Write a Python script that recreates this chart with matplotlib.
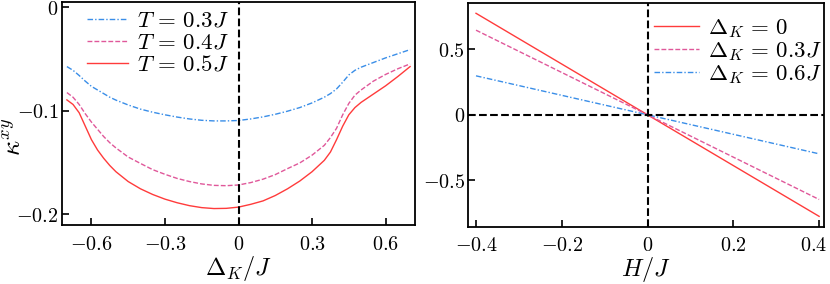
import numpy as np
import matplotlib
matplotlib.use("Agg")
import matplotlib.pyplot as plt
from matplotlib.transforms import ScaledTranslation

plt.rcParams['mathtext.fontset'] = 'cm'
plt.rcParams['font.family'] = 'serif'
plt.rcParams['font.serif'] = ['DejaVu Serif']

# left panel: kappa^xy vs Delta_K / J
dk = [-0.70, -0.675, -0.65, -0.625, -0.60, -0.575, -0.55, -0.525, -0.50, -0.45, -0.40, -0.35, -0.30,
      -0.25, -0.20, -0.15, -0.10, -0.05, 0.00, 0.05, 0.10, 0.15, 0.20, 0.25, 0.30, 0.35, 0.375,
      0.40, 0.425, 0.45, 0.475, 0.50, 0.55, 0.60, 0.65, 0.70]
k_t03 = [-0.0574, -0.061, -0.066, -0.0715, -0.0765, -0.080, -0.0835, -0.087, -0.0898, -0.0945, -0.0985, -0.1015, -0.104,
         -0.1062, -0.108, -0.1093, -0.1099, -0.1099, -0.1095, -0.108, -0.106, -0.1035, -0.1005, -0.097, -0.0925, -0.087, -0.0835,
         -0.079, -0.0725, -0.0655, -0.061, -0.058, -0.0535, -0.049, -0.045, -0.041]
k_t04 = [-0.0825, -0.087, -0.094, -0.103, -0.111, -0.118, -0.125, -0.131, -0.136, -0.1448, -0.151, -0.157, -0.1615,
         -0.1655, -0.1685, -0.1708, -0.1722, -0.1725, -0.1718, -0.1695, -0.1662, -0.1618, -0.156, -0.1505, -0.143, -0.1335, -0.126,
         -0.117, -0.104, -0.093, -0.085, -0.080, -0.0715, -0.065, -0.0595, -0.0548]
k_t05 = [-0.0896, -0.094, -0.102, -0.115, -0.128, -0.138, -0.146, -0.153, -0.159, -0.1685, -0.1755, -0.181, -0.1855,
         -0.189, -0.1918, -0.1937, -0.1946, -0.1944, -0.1932, -0.1905, -0.1872, -0.182, -0.1755, -0.168, -0.159, -0.148, -0.140,
         -0.128, -0.115, -0.104, -0.097, -0.092, -0.084, -0.076, -0.067, -0.0574]

# right panel: kappa^xy vs H / J
h = [-0.4, 0.4]
k_d0 = [0.776, -0.776]
k_d03 = [0.647, -0.647]
k_d06 = [0.298, -0.298]

red = '#ff3b3b'
pink = '#e0589a'
blue = '#3a8ee8'

fig = plt.figure(figsize=(8.3, 2.84), dpi=100)
ax1 = fig.add_axes([0.0747, 0.2077, 0.4253, 0.7852])
ax2 = fig.add_axes([0.5642, 0.2018, 0.4289, 0.7887])

ax1.plot(dk, k_t03, color=blue, lw=1, dashes=(4, 1.5, 1, 1.5), label=r'$T\,=\,0.3J$')
ax1.plot(dk, k_t04, color=pink, lw=1, dashes=(3.5, 1.5), label=r'$T\,=\,0.4J$')
ax1.plot(dk, k_t05, color=red, lw=1, label=r'$T\,=\,0.5J$')
ax1.axvline(0, color='k', ls='--', lw=1.5)
ax1.set_xlim(-0.72, 0.72)
ax1.set_ylim(-0.2105, 0.005)
ax1.set_xticks([-0.6, -0.3, 0, 0.3, 0.6])
ax1.set_xticklabels([r'$-0.6$', r'$-0.3$', r'$0$', r'$0.3$', r'$0.6$'])
ax1.set_yticks([0, -0.1, -0.2])
ax1.set_yticklabels([r'$0$', r'$-0.1$', r'$-0.2$'])
ax1.set_xlabel(r'$\Delta_K/J$', fontsize=17.5, labelpad=0)
# y label placed by hand at the left edge, just under the -0.1 tick label
fig.text(0.001, 1 - 137 / 284, r'$\kappa^{xy}$', fontsize=19, rotation=90, ha='left', va='center')
ax1.legend(loc='upper left', frameon=False, fontsize=16.5, handlelength=1.75, handletextpad=0.4,
           labelspacing=0.0, borderpad=0.2, borderaxespad=0.0, bbox_to_anchor=(0.059, 0.985))

ax2.plot(h, k_d0, color=red, lw=1, label=r'$\Delta_K\,=\,0$')
ax2.plot(h, k_d03, color=pink, lw=1, dashes=(3.5, 1.5), label=r'$\Delta_K\,=\,0.3J$')
ax2.plot(h, k_d06, color=blue, lw=1, dashes=(4, 1.5, 1, 1.5), label=r'$\Delta_K\,=\,0.6J$')
ax2.axvline(0, color='k', ls='--', lw=1.5)
ax2.axhline(0, color='k', ls='--', lw=1.5)
ax2.set_xlim(-0.418, 0.412)
ax2.set_ylim(-0.855, 0.857)
ax2.set_xticks([-0.4, -0.2, 0, 0.2, 0.4])
ax2.set_xticklabels([r'$-0.4$', r'$-0.2$', r'$0$', r'$0.2$', r'$0.4$'])
ax2.set_yticks([0.5, 0, -0.5])
ax2.set_yticklabels([r'$0.5$', r'$0$', r'$-0.5$'])
ax2.set_xlabel(r'$H/J$', fontsize=17.5, labelpad=0)
ax2.legend(loc='upper right', frameon=False, fontsize=16.5, handlelength=1.95, handletextpad=0.4,
           labelspacing=0.0, borderpad=0.2, borderaxespad=0.0, bbox_to_anchor=(1.006, 0.957))

for ax in (ax1, ax2):
    ax.tick_params(direction='in', length=5, width=1.2, labelsize=14.5)
    ax.tick_params(axis='x', pad=7)
    ax.tick_params(axis='y', pad=2.5)
    for s in ax.spines.values():
        s.set_linewidth(1.3)

# last tick label on the right sits a little left so it stays inside the figure
last = ax2.get_xticklabels()[-1]
last.set_transform(last.get_transform() + ScaledTranslation(-6 / 100, 0, fig.dpi_scale_trans))

fig.savefig('out.png', dpi=100)
